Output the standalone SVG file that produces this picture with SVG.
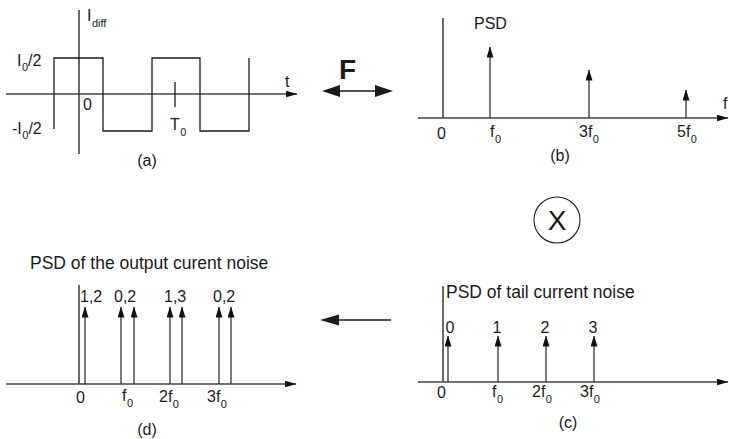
<svg xmlns="http://www.w3.org/2000/svg" width="729" height="439" viewBox="0 0 729 439">
<style>
.t{font-family:"Liberation Sans",Arial,sans-serif;font-size:16px;fill:#1a1a1a}
.s{font-size:11px}
.ti{font-size:17.5px}
.ln{stroke:#1a1a1a;stroke-width:1.3;fill:none}
.ax{stroke:#444;stroke-width:1.3;fill:none}
.sp{stroke:#333;stroke-width:1.3;fill:none;marker-end:url(#ah)}
</style>
<defs>
<marker id="ah" markerWidth="11" markerHeight="7" refX="10.5" refY="3.5" orient="auto" markerUnits="userSpaceOnUse"><path d="M0,0 L11,3.5 L0,7 z" fill="#111"/></marker>
<marker id="axh" markerWidth="12" markerHeight="8" refX="11.5" refY="4" orient="auto" markerUnits="userSpaceOnUse"><path d="M0,0.5 L12,4 L0,7.5 z" fill="#111"/></marker>
</defs>
<rect width="729" height="439" fill="#fff"/>

<g id="panel-a">
<line class="ln" x1="79" y1="10" x2="79" y2="154"/>
<line class="ax" x1="6" y1="94" x2="297" y2="94" marker-end="url(#axh)"/>
<path class="ln" d="M54,129 V58 H103 V131 H152 V58 H200 V131 H249 V58"/>
<line class="ln" x1="175" y1="82" x2="175" y2="107"/>
<text class="t" x="87" y="21">I<tspan class="s" dx="0.5" dy="6">diff</tspan></text>
<text class="t" x="17" y="66">I<tspan class="s" dx="0.5" dy="5">0</tspan><tspan dy="-5">/2</tspan></text>
<text class="t" x="12" y="134">-I<tspan class="s" dx="0.5" dy="5">0</tspan><tspan dy="-5">/2</tspan></text>
<text class="t" x="83" y="110">0</text>
<text class="t" x="170" y="130">T<tspan class="s" dx="0.5" dy="6">0</tspan></text>
<text class="t" x="285" y="87">t</text>
<text class="t" x="147" y="166" text-anchor="middle">(a)</text>
</g>

<g id="panel-b">
<line class="ln" x1="443" y1="18" x2="443" y2="118"/>
<line class="ax" x1="418" y1="118" x2="728" y2="118" marker-end="url(#axh)"/>
<line class="sp" x1="490" y1="118" x2="490" y2="47"/>
<line class="sp" x1="589" y1="118" x2="589" y2="70"/>
<line class="sp" x1="686" y1="118" x2="686" y2="90"/>
<text class="t" x="474" y="29">PSD</text>
<text class="t" x="437" y="139">0</text>
<text class="t" x="490" y="137">f<tspan class="s" dx="0.5" dy="6">0</tspan></text>
<text class="t" x="579" y="137">3f<tspan class="s" dx="0.5" dy="6">0</tspan></text>
<text class="t" x="677" y="137">5f<tspan class="s" dx="0.5" dy="6">0</tspan></text>
<text class="t" x="723" y="109">f</text>
<text class="t" x="560" y="161" text-anchor="middle">(b)</text>
</g>

<g id="multiply">
<circle cx="557" cy="220" r="23" fill="none" stroke="#1a1a1a" stroke-width="1.1"/>
<text class="t" x="557" y="230" text-anchor="middle" style="font-size:28px">X</text>
</g>

<g id="panel-c">
<line class="ln" x1="443" y1="286" x2="443" y2="382"/>
<line class="ax" x1="418" y1="382" x2="728" y2="382" marker-end="url(#axh)"/>
<line class="sp" x1="448" y1="382" x2="448" y2="336"/>
<line class="sp" x1="498" y1="382" x2="498" y2="336"/>
<line class="sp" x1="546" y1="382" x2="546" y2="336"/>
<line class="sp" x1="594" y1="382" x2="594" y2="336"/>
<text class="t ti" x="446" y="298">PSD of tail current noise</text>
<text class="t" x="450" y="333" text-anchor="middle">0</text>
<text class="t" x="497" y="333" text-anchor="middle">1</text>
<text class="t" x="545" y="333" text-anchor="middle">2</text>
<text class="t" x="593" y="333" text-anchor="middle">3</text>
<text class="t" x="437" y="398">0</text>
<text class="t" x="492" y="397">f<tspan class="s" dx="0.5" dy="6">0</tspan></text>
<text class="t" x="532" y="397">2f<tspan class="s" dx="0.5" dy="6">0</tspan></text>
<text class="t" x="580" y="397">3f<tspan class="s" dx="0.5" dy="6">0</tspan></text>
<text class="t" x="568" y="428" text-anchor="middle">(c)</text>
</g>

<g id="panel-d">
<line class="ln" x1="79" y1="285" x2="79" y2="384"/>
<line class="ax" x1="6" y1="384" x2="296" y2="384" marker-end="url(#axh)"/>
<line class="sp" x1="85" y1="384" x2="85" y2="307"/>
<line class="sp" x1="121" y1="384" x2="121" y2="307"/>
<line class="sp" x1="134" y1="384" x2="134" y2="307"/>
<line class="sp" x1="170" y1="384" x2="170" y2="307"/>
<line class="sp" x1="182" y1="384" x2="182" y2="307"/>
<line class="sp" x1="219" y1="384" x2="219" y2="307"/>
<line class="sp" x1="231" y1="384" x2="231" y2="307"/>
<text class="t ti" x="30" y="269">PSD of the output curent noise</text>
<text class="t" x="80" y="302">1,2</text>
<text class="t" x="114" y="302">0,2</text>
<text class="t" x="164" y="302">1,3</text>
<text class="t" x="213" y="302">0,2</text>
<text class="t" x="76" y="403">0</text>
<text class="t" x="122" y="401">f<tspan class="s" dx="0.5" dy="6">0</tspan></text>
<text class="t" x="159" y="402">2f<tspan class="s" dx="0.5" dy="6">0</tspan></text>
<text class="t" x="207" y="402">3f<tspan class="s" dx="0.5" dy="6">0</tspan></text>
<text class="t" x="147" y="435" text-anchor="middle">(d)</text>
</g>

<g id="connectors">
<text class="t" x="339" y="79" style="font-size:28px;font-weight:bold">F</text>
<line x1="338" y1="91" x2="377" y2="91" stroke="#1a1a1a" stroke-width="1.6"/>
<path d="M322,91 L340,85 L340,97 z M393,91 L375,85 L375,97 z" fill="#1a1a1a"/>
<line x1="337" y1="320" x2="391" y2="320" stroke="#1a1a1a" stroke-width="1.6"/>
<path d="M320,320 L339,314.5 L339,325.5 z" fill="#1a1a1a"/>
</g>
</svg>
